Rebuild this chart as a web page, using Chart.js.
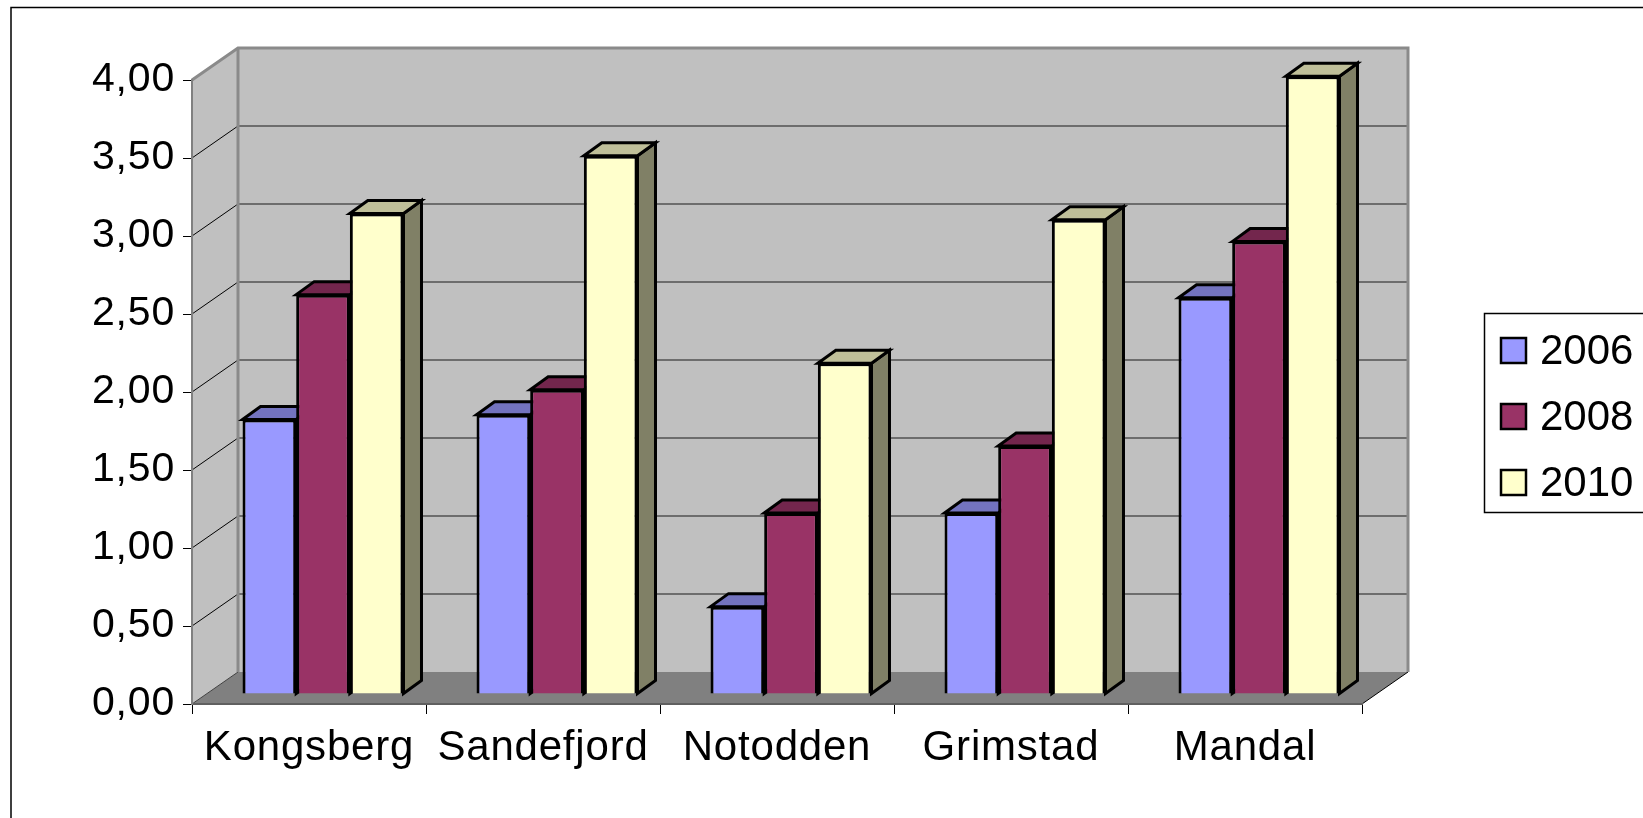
<!DOCTYPE html>
<html>
<head>
<meta charset="utf-8">
<script src="https://cdn.jsdelivr.net/npm/chart.js@4.4.1/dist/chart.umd.min.js"></script>
<style>
  html, body { margin: 0; padding: 0; background: #fff; overflow: hidden; }
  #wrap { position: absolute; left: 0; top: 0; width: 1643px; height: 818px; }
</style>
</head>
<body>
<div id="wrap"><canvas id="chart" width="1643" height="818"></canvas></div>
<script>
// data
const towns = ['Kongsberg', 'Sandefjord', 'Notodden', 'Grimstad', 'Mandal'];
const years = ['2006', '2008', '2010'];
const values2006 = [1.76, 1.79, 0.56, 1.16, 2.54];
const values2008 = [2.56, 1.95, 1.16, 1.59, 2.90];
const values2010 = [3.08, 3.45, 2.12, 3.04, 3.96];
const yTicks = [0, 0.5, 1, 1.5, 2, 2.5, 3, 3.5, 4];

const colors = ['#9999ff', '#993366', '#ffffcc'];
const topColors = ['#7373bf', '#73264d', '#bfbf99'];
const sideColors = ['#4d4d80', '#4d1933', '#808066'];

// fake 3d depth
const wallDX = 46, wallDY = 32;   // back wall offset from front plane
const barOX = 14, barOY = 10;     // bar front offset from front plane
const barDX = 18, barDY = 13;     // bar depth

function poly(ctx, pts, fill, stroke, lw) {
    ctx.beginPath();
    ctx.moveTo(pts[0][0], pts[0][1]);
    for (let i = 1; i < pts.length; i++) ctx.lineTo(pts[i][0], pts[i][1]);
    ctx.closePath();
    if (fill) { ctx.fillStyle = fill; ctx.fill(); }
    if (stroke) { ctx.strokeStyle = stroke; ctx.lineWidth = lw; ctx.stroke(); }
}

function line(ctx, x1, y1, x2, y2, color, lw) {
    ctx.beginPath();
    ctx.moveTo(x1, y1);
    ctx.lineTo(x2, y2);
    ctx.strokeStyle = color;
    ctx.lineWidth = lw;
    ctx.stroke();
}

const walls3d = {
    id: 'walls3d',
    beforeDraw(chart) {
        const ctx = chart.ctx;
        const a = chart.chartArea;
        const y = chart.scales.y;
        const top = y.getPixelForValue(4), bot = y.getPixelForValue(0);
        ctx.save();
        // outer frame
        ctx.strokeStyle = '#000';
        ctx.lineWidth = 1.5;
        ctx.strokeRect(11, 7.5, 2000, 2000);
        // back wall
        poly(ctx, [[a.left + wallDX, top - wallDY], [a.right + wallDX, top - wallDY],
                   [a.right + wallDX, bot - wallDY], [a.left + wallDX, bot - wallDY]], '#c0c0c0');
        // side wall
        poly(ctx, [[a.left, top], [a.left + wallDX, top - wallDY],
                   [a.left + wallDX, bot - wallDY], [a.left, bot]], '#c0c0c0');
        // floor
        poly(ctx, [[a.left, bot], [a.left + wallDX, bot - wallDY],
                   [a.right + wallDX, bot - wallDY], [a.right, bot]], '#808080');
        line(ctx, a.right, bot, a.right + wallDX, bot - wallDY, '#000', 1);
        // grid lines on the walls
        yTicks.forEach(v => {
            if (v === 0 || v === 4) return;
            const py = y.getPixelForValue(v);
            line(ctx, a.left, py, a.left + wallDX, py - wallDY, '#000', 1);
            line(ctx, a.left + wallDX, py - wallDY, a.right + wallDX, py - wallDY, '#1a1a1a', 1.2);
        });
        line(ctx, a.left, bot, a.left + wallDX, bot - wallDY, '#404040', 1);
        // wall edges
        ctx.lineJoin = 'miter';
        ctx.beginPath();
        ctx.moveTo(a.left, top);
        ctx.lineTo(a.left + wallDX, top - wallDY);
        ctx.lineTo(a.right + wallDX, top - wallDY);
        ctx.lineTo(a.right + wallDX, bot - wallDY);
        ctx.strokeStyle = '#8a8a8a';
        ctx.lineWidth = 3;
        ctx.stroke();
        line(ctx, a.left + wallDX, top - wallDY, a.left + wallDX, bot - wallDY, '#8a8a8a', 3);
        ctx.restore();
        // the axis text in the original is a little stretched
        ctx.letterSpacing = '0.8px';
    },
    beforeDatasetsDraw(chart) {
        const ctx = chart.ctx;
        ctx.letterSpacing = '0px';
        ctx.save();
        ctx.translate(barOX, -barOY);
        ctx.lineJoin = 'miter';
        chart.data.datasets.forEach((ds, i) => {
            chart.getDatasetMeta(i).data.forEach(bar => {
                const p = bar.getProps(['x', 'y', 'base', 'width'], true);
                const l = p.x - p.width / 2, r = p.x + p.width / 2;
                poly(ctx, [[r, p.y], [r + barDX, p.y - barDY], [r + barDX, p.base - barDY], [r, p.base]],
                     sideColors[i], '#000', 3);
                poly(ctx, [[l, p.y], [l + barDX, p.y - barDY], [r + barDX, p.y - barDY], [r, p.y]],
                     topColors[i], '#000', 3);
            });
        });
    },
    afterDatasetsDraw(chart) {
        chart.ctx.restore();
    },
    afterDraw(chart) {
        const ctx = chart.ctx;
        ctx.save();
        ctx.letterSpacing = '0px';
        // legend box
        ctx.strokeStyle = '#000';
        ctx.lineWidth = 1.5;
        ctx.strokeRect(1484.5, 313.5, 400, 199);
        ctx.font = '42px "Liberation Sans", Arial, sans-serif';
        ctx.textBaseline = 'middle';
        ctx.textAlign = 'left';
        chart.data.datasets.forEach((ds, i) => {
            const cy = 350 + i * 66;
            ctx.fillStyle = ds.backgroundColor;
            ctx.fillRect(1501, cy - 12, 25, 25);
            ctx.strokeStyle = '#000';
            ctx.lineWidth = 2.5;
            ctx.strokeRect(1501, cy - 12, 25, 25);
            ctx.fillStyle = '#000';
            ctx.fillText(ds.label, 1540, cy + 2);
        });
        ctx.restore();
    }
};

const ctx = document.getElementById('chart').getContext('2d');
const chart = new Chart(ctx, {
    type: 'bar',
    data: {
        labels: towns,
        datasets: [
            { label: years[0], data: values2006, backgroundColor: colors[0] },
            { label: years[1], data: values2008, backgroundColor: colors[1] },
            { label: years[2], data: values2010, backgroundColor: colors[2] }
        ]
    },
    options: {
        responsive: false,
        animation: false,
        events: [],
        layout: { padding: { left: 0, top: 80, right: 281, bottom: 0 } },
        datasets: {
            bar: {
                borderColor: '#000',
                borderWidth: 3,
                categoryPercentage: 0.688,
                barPercentage: 1.0,
                clip: false
            }
        },
        plugins: {
            legend: { display: false },
            tooltip: { enabled: false }
        },
        scales: {
            x: {
                grid: { offset: true, drawOnChartArea: false, drawTicks: true, tickLength: 10, color: '#000', lineWidth: 1 },
                border: { display: true, color: '#606060', width: 2 },
                ticks: {
                    color: '#000',
                    padding: 9,
                    font: { family: '"Liberation Sans", Arial, sans-serif', size: 42 }
                },
                afterFit: (scale) => { scale.height = 114; }
            },
            y: {
                min: 0,
                max: 4,
                grid: { drawOnChartArea: false, drawTicks: true, tickLength: 9, color: '#000', lineWidth: 1 },
                border: { display: true, color: '#808080', width: 2 },
                ticks: {
                    stepSize: 0.5,
                    color: '#000',
                    padding: 8,
                    font: { family: '"Liberation Sans", Arial, sans-serif', size: 41 },
                    callback: (v) => v.toFixed(2).replace('.', ',')
                },
                afterFit: (scale) => { scale.width = 192; }
            }
        }
    },
    plugins: [walls3d]
});
</script>
</body>
</html>
